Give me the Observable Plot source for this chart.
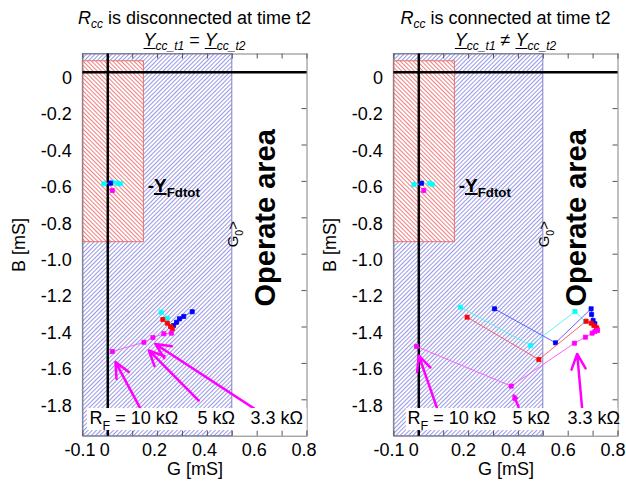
<!DOCTYPE html>
<html><head><meta charset="utf-8">
<script src="https://cdn.jsdelivr.net/npm/d3@7"></script>
<script src="https://cdn.jsdelivr.net/npm/@observablehq/plot@0.6"></script>
<style>
body{margin:0;background:#fff;font-family:"Liberation Sans",Arial,sans-serif;}
#wrap{position:relative;width:626px;height:481px;overflow:hidden;background:#fff;}
.panel{position:absolute;top:0;overflow:visible;}
.title{position:absolute;transform:translateX(-50%);white-space:nowrap;font-size:18px;color:#000;text-align:center;line-height:22px;top:7px;}
.title sub{font-size:12px;vertical-align:-4px;line-height:0}
.title u{text-decoration-thickness:1px;text-underline-offset:2px}
</style></head><body>
<svg width="0" height="0" style="position:absolute">
<defs>
<pattern id="hatchBlue" width="3" height="3" patternUnits="userSpaceOnUse" patternTransform="rotate(45)">
<rect width="3" height="3" fill="#fff"/><line x1="0.5" y1="0" x2="0.5" y2="3" stroke="#8c8ce4" stroke-width="0.9"/></pattern>
<pattern id="hatchRed" width="3" height="3" patternUnits="userSpaceOnUse" patternTransform="rotate(-45)">
<rect width="3" height="3" fill="#fff"/><line x1="0.5" y1="0" x2="0.5" y2="3" stroke="#ee7070" stroke-width="0.9"/></pattern>
</defs></svg>
<div id="wrap">
  <div class="title" style="left:194.5px"><i>R<sub>cc</sub></i> is disconnected at time t2<br><u><i>Y</i></u><sub><i>cc_t1</i></sub> = <u><i>Y</i></u><sub><i>cc_t2</i></sub></div>
  <div class="title" style="left:505.5px"><i>R<sub>cc</sub></i> is connected at time t2<br><u><i>Y</i></u><sub><i>cc_t1</i></sub> ≠ <u><i>Y</i></u><sub><i>cc_t2</i></sub></div>
</div>
<script>
// ---------- axes ----------
const xDomain = [-0.1, 0.8];
const yDomain = [-2.0, 0.1];
const xTicks = [-0.1, 0, 0.1, 0.2, 0.3, 0.4, 0.5, 0.6, 0.7, 0.8];
const xTickLabels = [-0.1, 0, 0.2, 0.4, 0.6, 0.8];
const yTicks = [0, -0.2, -0.4, -0.6, -0.8, -1.0, -1.2, -1.4, -1.6, -1.8];
const xLabel = "G [mS]";
const yLabel = "B [mS]";

// ---------- regions ----------
const blueArea = [{g1: -0.1, g2: 0.5, b1: -2.0, b2: 0.1}];
const redArea = [{g1: -0.1, g2: 0.145, b1: -0.934, b2: 0.06}];

// ---------- left panel data (G, B) ----------
const L_cyan = [[0.214, -1.319], [0.239, -1.352]];
const L_blue = [[0.339, -1.316], [0.305, -1.342], [0.288, -1.355], [0.276, -1.374], [0.264, -1.392]];
const L_red = [[0.221, -1.359], [0.239, -1.379], [0.252, -1.397], [0.259, -1.410]];
const L_magenta = [[0.018, -1.535], [0.145, -1.484], [0.181, -1.458], [0.225, -1.437], [0.255, -1.434]];
const L_fdCyan = [[-0.016, -0.613], [0.018, -0.604], [0.038, -0.610], [0.051, -0.613]];
const L_fdBlue = [[0.011, -0.610]];
const L_fdMagenta = [[0.018, -0.650]];
const L_arrows = [
  {g1: 0.131, b1: -1.848, g2: 0.031, b2: -1.593},
  {g1: 0.365, b1: -1.804, g2: 0.165, b2: -1.529},
  {g1: 0.600, b1: -1.859, g2: 0.191, b2: -1.493}
];
const L_rfLabels = [
  {g: -0.073, b: -1.904, t: "R_{F} = 10 kΩ"},
  {g: 0.360, b: -1.904, t: "5 kΩ"},
  {g: 0.573, b: -1.904, t: "3.3 kΩ"}
];
const L_rfBox = [{g1: -0.082, g2: 0.8, b1: -1.969, b2: -1.848}];

// ---------- right panel data (G, B) ----------
const R_cyan = [[0.167, -1.291], [0.449, -1.502], [0.627, -1.315], [0.669, -1.370]];
const R_blue = [[0.304, -1.300], [0.549, -1.487], [0.692, -1.300], [0.694, -1.331], [0.700, -1.364], [0.707, -1.382]];
const R_red = [[0.194, -1.346], [0.482, -1.579], [0.672, -1.368], [0.692, -1.379], [0.703, -1.392], [0.714, -1.404], [0.716, -1.414]];
const R_magenta = [[-0.009, -1.507], [0.371, -1.725], [0.625, -1.489], [0.669, -1.456], [0.696, -1.434], [0.707, -1.425], [0.718, -1.419]];
const R_fdCyan = [[-0.020, -0.617], [0.044, -0.610], [0.054, -0.617]];
const R_fdBlue = [[0.011, -0.610]];
const R_fdMagenta = [[0.020, -0.650]];
const R_arrows = [
  {g1: 0.074, b1: -1.848, g2: 0.0, b2: -1.557},
  {g1: 0.401, b1: -1.840, g2: 0.381, b2: -1.776},
  {g1: 0.656, b1: -1.848, g2: 0.636, b2: -1.548}
];
const R_rfLabels = [
  {g: -0.045, b: -1.904, t: "R_{F} = 10 kΩ"},
  {g: 0.376, b: -1.904, t: "5 kΩ"},
  {g: 0.597, b: -1.904, t: "3.3 kΩ"}
];
const R_rfBox = [{g1: -0.05, g2: 0.8, b1: -1.969, b2: -1.848}];

// ---------- annotations ----------
const operateLabel = [{g: 0.633, b: -0.80, t: "Operate area"}];
const g0Label = [{g: 0.505, b: -0.89, t: "G_{0}>"}];
const yfdLabel = [{g: 0.16, b: -0.625, t: "-~{Y}_{Fdtot}"}];

const colors = {cyan: "#00ffff", blue: "#0000ff", red: "#ff0000", magenta: "#ff00ff"};
const lineColors = {cyan: "#50f0f0", blue: "#5050ff", red: "#ff5050", magenta: "#ff50ff"};

const fmt = d => d === 0 ? "0" : d.toFixed(1);
const gx = d => d[0], by = d => d[1];

function rich(svg) {
  svg.querySelectorAll("text").forEach(t => {
    if (t.querySelector("tspan")) return;
    const s = t.textContent;
    if (!/[_~]\{/.test(s)) return;
    t.textContent = "";
    const re = /([_~])\{([^}]*)\}|[^_~]+|[_~]/g;
    let m, prevSub = false;
    while ((m = re.exec(s))) {
      const ts = document.createElementNS("http://www.w3.org/2000/svg", "tspan");
      if (m[1] === "_") {
        ts.textContent = m[2];
        ts.style.fontSize = "0.7em";
        ts.setAttribute("dy", "0.4em");
        prevSub = true;
      } else {
        ts.textContent = m[1] === "~" ? m[2] : m[0];
        if (m[1] === "~") ts.setAttribute("text-decoration", "underline");
        if (prevSub) { ts.setAttribute("dy", "-0.28em"); prevSub = false; }
      }
      t.appendChild(ts);
    }
  });
}

function series(data, c) {
  return [
    Plot.line(data, {x: gx, y: by, stroke: lineColors[c], strokeWidth: 0.9}),
    Plot.dot(data, {x: gx, y: by, symbol: "square", r: 2.3, fill: colors[c], stroke: colors[c], strokeWidth: 0.8})
  ];
}

function panel(P) {
  const W = 313, H = 481, mt = 53.5, mb = 45.3;
  const pw = W - P.ml - P.mr, ph = H - mt - mb;
  const svg = Plot.plot({
    width: W, height: H,
    marginTop: mt, marginBottom: mb, marginLeft: P.ml, marginRight: P.mr,
    x: {domain: xDomain}, y: {domain: yDomain},
    style: {fontFamily: "Liberation Sans, Arial, sans-serif", background: "transparent", color: "#000", overflow: "visible"},
    marks: [
      Plot.rect(blueArea, {x1: "g1", x2: "g2", y1: "b1", y2: "b2", fill: "url(#hatchBlue)", stroke: "#8080c8", strokeWidth: 1}),
      Plot.rect(redArea, {x1: "g1", x2: "g2", y1: "b1", y2: "b2", fill: "url(#hatchRed)", stroke: "#e87070", strokeWidth: 1}),
      Plot.frame({stroke: "#808080", strokeWidth: 1}),
      Plot.tickX(xTicks, {x: d => d, insetTop: ph - 5, stroke: "#555"}),
      Plot.tickX(xTicks, {x: d => d, insetBottom: ph - 5, stroke: "#555"}),
      Plot.tickY(yTicks, {y: d => d, insetLeft: pw - 5, stroke: "#555"}),
      Plot.ruleX([0], {stroke: "#000", strokeWidth: 2.5}),
      Plot.ruleY([0], {stroke: "#000", strokeWidth: 2.5}),
      Plot.axisX({anchor: "bottom", ticks: xTickLabels, tickSize: 0, tickPadding: 7, tickFormat: fmt, fontSize: 18, label: null, dx: P.labelDx}),
      Plot.axisY({anchor: "left", ticks: yTicks, tickSize: 0, tickPadding: 11, tickFormat: fmt, fontSize: 18, label: null, dy: 6}),
      Plot.text([xLabel], {frameAnchor: "bottom", lineAnchor: "middle", dy: 33, fontSize: 18}),
      Plot.text([yLabel], {frameAnchor: "left", textAnchor: "middle", lineAnchor: "middle", dx: -64, rotate: -90, fontSize: 18}),
      ...series(P.cyan, "cyan"),
      ...series(P.blue, "blue"),
      ...series(P.red, "red"),
      ...series(P.magenta, "magenta"),
      ...series(P.fdCyan, "cyan"),
      ...series(P.fdBlue, "blue"),
      ...series(P.fdMagenta, "magenta"),
      Plot.text(yfdLabel, {x: "g", y: "b", text: "t", textAnchor: "start", fontSize: 19, fontWeight: "bold"}),
      Plot.text(g0Label, {x: "g", y: "b", text: "t", rotate: -90, fontSize: 15}),
      Plot.text(operateLabel, {x: "g", y: "b", text: "t", rotate: -90, fontSize: 29, fontWeight: "bold"}),
      Plot.arrow(P.arrows, {x1: "g1", y1: "b1", x2: "g2", y2: "b2", stroke: "#ff00ff", strokeWidth: 2.5, headLength: 10, headAngle: 50}),
      Plot.rect(P.box, {x1: "g1", x2: "g2", y1: "b1", y2: "b2", fill: "white"}),
      Plot.text(P.rf, {x: "g", y: "b", text: "t", textAnchor: "start", fontSize: 18})
    ]
  });
  rich(svg);
  svg.classList.add("panel");
  svg.style.left = P.left + "px";
  svg.style.overflow = "visible";
  return svg;
}

const wrap = document.getElementById("wrap");
wrap.prepend(panel({left: 0, ml: 82.4, mr: 6.5, labelDx: -3, cyan: L_cyan, blue: L_blue, red: L_red, magenta: L_magenta,
  fdCyan: L_fdCyan, fdBlue: L_fdBlue, fdMagenta: L_fdMagenta, arrows: L_arrows, rf: L_rfLabels, box: L_rfBox}));
wrap.prepend(panel({left: 313, ml: 80.4, mr: 8.5, labelDx: -5, cyan: R_cyan, blue: R_blue, red: R_red, magenta: R_magenta,
  fdCyan: R_fdCyan, fdBlue: R_fdBlue, fdMagenta: R_fdMagenta, arrows: R_arrows, rf: R_rfLabels, box: R_rfBox}));
</script>
</body></html>
